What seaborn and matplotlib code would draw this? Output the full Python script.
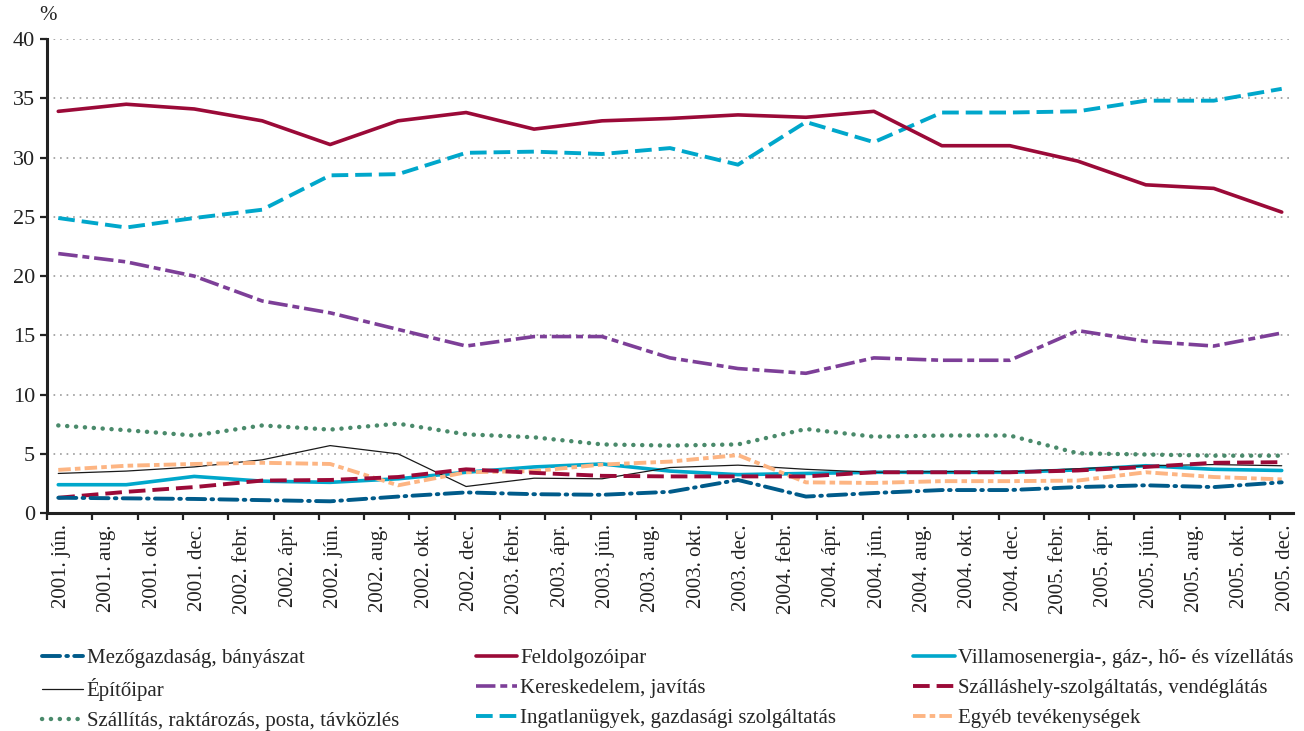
import numpy as np
import pandas as pd
import matplotlib
matplotlib.use("Agg")
import matplotlib.pyplot as plt
import seaborn as sns

# quarterly data, x = months since 2001 June
months = [0, 3, 6, 9, 12, 15, 18, 21, 24, 27, 30, 33, 36, 39, 42, 45, 48, 51, 54]

mezo = [1.3, 1.25, 1.2, 1.1, 1.0, 1.4, 1.75, 1.6, 1.55, 1.8, 2.8, 1.4, 1.7, 1.95, 1.95, 2.2, 2.35, 2.2, 2.6]
feldolg = [33.9, 34.5, 34.1, 33.1, 31.1, 33.1, 33.8, 32.4, 33.1, 33.3, 33.6, 33.4, 33.9, 31.0, 31.0, 29.7, 27.7, 27.4, 25.4]
villamos = [2.4, 2.4, 3.1, 2.7, 2.6, 2.9, 3.45, 3.9, 4.15, 3.55, 3.25, 3.35, 3.45, 3.45, 3.45, 3.65, 4.0, 3.7, 3.6]
epito = [3.35, 3.55, 3.9, 4.5, 5.7, 5.0, 2.25, 2.95, 2.9, 3.85, 4.05, 3.7, 3.45, 3.5, 3.5, 3.75, 4.0, 4.1, 4.0]
keresk = [21.9, 21.2, 20.0, 17.9, 16.9, 15.5, 14.1, 14.9, 14.9, 13.1, 12.2, 11.8, 13.1, 12.9, 12.9, 15.4, 14.5, 14.1, 15.2]
szallas = [1.3, 1.8, 2.2, 2.75, 2.8, 3.05, 3.7, 3.4, 3.15, 3.1, 3.1, 3.1, 3.45, 3.45, 3.45, 3.6, 3.9, 4.25, 4.3]
szallitas = [7.4, 7.0, 6.55, 7.4, 7.05, 7.55, 6.65, 6.4, 5.8, 5.7, 5.8, 7.1, 6.45, 6.55, 6.55, 5.05, 4.95, 4.85, 4.85]
ingatlan = [24.9, 24.1, 24.9, 25.6, 28.5, 28.6, 30.4, 30.5, 30.3, 30.8, 29.4, 33.0, 31.3, 33.8, 33.8, 33.9, 34.8, 34.8, 35.8]
egyeb = [3.65, 4.0, 4.15, 4.25, 4.15, 2.35, 3.45, 3.55, 4.1, 4.35, 4.9, 2.6, 2.55, 2.7, 2.7, 2.75, 3.45, 3.05, 2.85]

# bimonthly axis labels
xlabels = ["2001. jún.", "2001. aug.", "2001. okt.", "2001. dec.",
           "2002. febr.", "2002. ápr.", "2002. jún.", "2002. aug.", "2002. okt.", "2002. dec.",
           "2003. febr.", "2003. ápr.", "2003. jún.", "2003. aug.", "2003. okt.", "2003. dec.",
           "2004. febr.", "2004. ápr.", "2004. jún.", "2004. aug.", "2004. okt.", "2004. dec.",
           "2005. febr.", "2005. ápr.", "2005. jún.", "2005. aug.", "2005. okt.", "2005. dec."]

names = ["Mezőgazdaság, bányászat", "Feldolgozóipar", "Villamosenergia-, gáz-, hő- és vízellátás",
         "Építőipar", "Kereskedelem, javítás", "Szálláshely-szolgáltatás, vendéglátás",
         "Szállítás, raktározás, posta, távközlés", "Ingatlanügyek, gazdasági szolgáltatás",
         "Egyéb tevékenységek"]
values = [mezo, feldolg, villamos, epito, keresk, szallas, szallitas, ingatlan, egyeb]

styles = {
    names[0]: dict(color="#005b8a", lw=2.8, dashes=(13, 4.5, 1.2, 4.5)),
    names[1]: dict(color="#9b0a38", lw=2.6, dashes=None),
    names[2]: dict(color="#00a7cb", lw=2.6, dashes=None),
    names[3]: dict(color="#1a1a1a", lw=0.9, dashes=None),
    names[4]: dict(color="#7d3f98", lw=2.6, dashes=(14, 3.5, 5, 3.5)),
    names[5]: dict(color="#9b0a38", lw=2.8, dashes=(12, 5)),
    names[6]: dict(color="#4a8a6b", lw=3.2, dashes=(0.1, 6.3)),
    names[7]: dict(color="#00a7cb", lw=2.8, dashes=(12, 5)),
    names[8]: dict(color="#fdb583", lw=2.8, dashes=(9, 3, 4, 3)),
}
draw_order = [6, 2, 3, 8, 5, 0, 7, 4, 1]

df = pd.DataFrame({"month": months})
for n, v in zip(names, values):
    df[n] = v
long = df.melt(id_vars="month", var_name="series", value_name="value")

sns.set_style("white")
plt.rcParams["font.family"] = ["Liberation Serif", "DejaVu Serif"]
plt.rcParams["lines.scale_dashes"] = False

fig = plt.figure(figsize=(13.04, 7.31), dpi=100)
ax = fig.add_axes([0.036, 0.298, 0.9556, 0.6486])

handles = {}
for i in draw_order:
    n = names[i]
    st = styles[n]
    sub = long[long["series"] == n]
    sns.lineplot(data=sub, x="month", y="value", ax=ax, color=st["color"],
                 linewidth=st["lw"], label=n, legend=False)
    line = ax.get_lines()[-1]
    if st["dashes"] is not None:
        line.set_dashes(st["dashes"])
    if n in (names[6], names[0]):
        line.set_dash_capstyle("round")
    handles[n] = line

ax.set_xlim(-0.5, 54.5)
ax.set_ylim(0, 40)
ax.set_yticks(np.arange(0, 41, 5))
ax.set_xticks(np.arange(0, 55, 2) + 0.15)
ax.set_xticklabels(xlabels, rotation=90, fontsize=15)
ax.set_xticks(np.arange(-0.5, 54, 2), minor=True)
ax.tick_params(axis="x", which="major", length=0, pad=8, colors="#222222")
ax.tick_params(axis="x", which="minor", length=5, width=1.6, direction="out", color="#222222", bottom=True)
ax.tick_params(axis="y", length=5, width=1.6, direction="out", labelsize=16, colors="#222222", left=True)
ax.set_xlabel("")
ax.set_ylabel("")

ax.yaxis.grid(True, linestyle=(0, (1.2, 3.5)), color="#9a9a9a", linewidth=1.2)
ax.xaxis.grid(False)
for s in ["top", "right"]:
    ax.spines[s].set_visible(False)
for s in ["left", "bottom"]:
    ax.spines[s].set_color("#222222")
    ax.spines[s].set_linewidth(2.2)
ax.set_axisbelow(True)

fig.text(48 / 1304, 1 - 16 / 731, "%", fontsize=15, ha="center", va="center", color="#222222")

order = [0, 3, 6, 1, 4, 7, 2, 5, 8]
fig.legend([handles[names[i]] for i in order], [names[i] for i in order],
           loc="upper left", bbox_to_anchor=(0.032, 0.113, 0.96, 0.0), mode="expand",
           ncol=3, frameon=False, fontsize=15, handlelength=2.0, handletextpad=0.15,
           borderaxespad=0, borderpad=0, labelspacing=0.5)

fig.savefig("out.png", dpi=100)
